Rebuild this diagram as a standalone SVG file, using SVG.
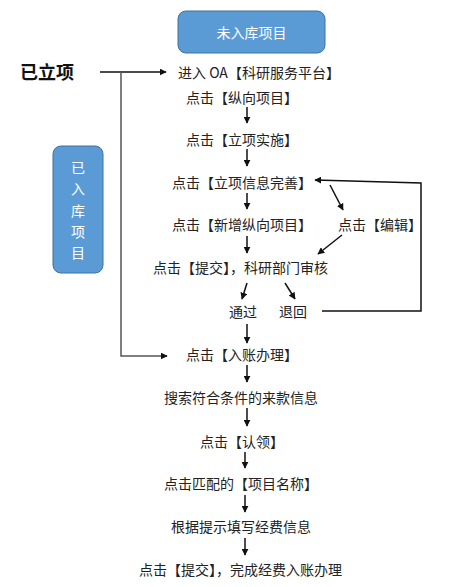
<svg xmlns="http://www.w3.org/2000/svg" width="469" height="587" viewBox="0 0 469 587">
<style>
.t{font-family:"Noto Sans CJK SC","Liberation Sans",sans-serif;font-size:14px;fill:#222;dominant-baseline:central}
.w{font-family:"Noto Sans CJK SC","Liberation Sans",sans-serif;font-size:14px;fill:#fff;dominant-baseline:central;text-anchor:middle}
.box{fill:#5B9BD5;stroke:#41719C;stroke-width:1}
.ln{stroke:#111;stroke-width:1.5;fill:none}
.gl{stroke:#555;stroke-width:1.5;fill:none}
</style>
<defs>
<marker id="a" viewBox="0 0 10 10" refX="9" refY="5" markerWidth="7" markerHeight="7" orient="auto" markerUnits="userSpaceOnUse">
<path d="M0,0 L10,5 L0,10 z" fill="#111"/>
</marker>
</defs>
<rect width="469" height="587" fill="#fff"/>
<g id="node-weiruku"><rect class="box" x="178" y="11" width="147" height="42" rx="8"/><text class="w" x="251.5" y="32">未入库项目</text></g>
<g id="node-yiruku"><rect class="box" x="53" y="146" width="50" height="127" rx="8"/>
<text class="w" x="78" y="167">已</text><text class="w" x="78" y="188">入</text><text class="w" x="78" y="210">库</text><text class="w" x="78" y="231">项</text><text class="w" x="78" y="252">目</text></g>
<g id="node-yilixiang"><text x="20" y="71" style="font-family:'Noto Sans CJK SC',sans-serif;font-size:18px;font-weight:bold;fill:#111;dominant-baseline:central">已立项</text></g>
<g id="node-oa"><text class="t" x="178" y="72">进入 OA【科研服务平台】</text></g>
<g id="node-zongxiang"><text class="t" x="186" y="97">点击【纵向项目】</text></g>
<g id="node-lixiang"><text class="t" x="186" y="139">点击【立项实施】</text></g>
<g id="node-wanshan"><text class="t" x="172" y="182">点击【立项信息完善】</text></g>
<g id="node-xinzeng"><text class="t" x="172" y="224">点击【新增纵向项目】</text></g>
<g id="node-bianji"><text class="t" x="338" y="224">点击【编辑】</text></g>
<g id="node-tijiao"><text class="t" x="153" y="267">点击【提交】，科研部门审核</text></g>
<g id="node-tongguo"><text class="t" x="229" y="311">通过</text></g>
<g id="node-tuihui"><text class="t" x="279" y="311">退回</text></g>
<g id="node-ruzhang"><text class="t" x="186" y="354">点击【入账办理】</text></g>
<g id="node-sousuo"><text class="t" x="164" y="397">搜索符合条件的来款信息</text></g>
<g id="node-renling"><text class="t" x="200" y="441">点击【认领】</text></g>
<g id="node-pipei"><text class="t" x="164" y="483">点击匹配的【项目名称】</text></g>
<g id="node-tianxie"><text class="t" x="171" y="526">根据提示填写经费信息</text></g>
<g id="node-wancheng"><text class="t" x="139" y="569">点击【提交】，完成经费入账办理</text></g>
<g id="connectors">
<path class="ln" d="M100,72 H166" marker-end="url(#a)"/>
<path class="gl" d="M121,72 V356 H166"/>
<path class="ln" d="M166,356 H167" marker-end="url(#a)"/>
<path class="ln" d="M247,107 V123" marker-end="url(#a)"/>
<path class="ln" d="M247,149 V166" marker-end="url(#a)"/>
<path class="ln" d="M247,193 V209" marker-end="url(#a)"/>
<path class="ln" d="M330,185 L343,210" marker-end="url(#a)"/>
<path class="ln" d="M247,236 V253" marker-end="url(#a)"/>
<path class="ln" d="M342,235 L318,254" marker-end="url(#a)"/>
<path class="ln" d="M247,283 L242,299" marker-end="url(#a)"/>
<path class="ln" d="M285,283 L295,299" marker-end="url(#a)"/>
<path class="ln" d="M322,311 H421 V183 L315,180" marker-end="url(#a)"/>
<path class="ln" d="M247,324 V343" marker-end="url(#a)"/>
<path class="ln" d="M247,365 V382" marker-end="url(#a)"/>
<path class="ln" d="M247,408 V426" marker-end="url(#a)"/>
<path class="ln" d="M245,452 V468" marker-end="url(#a)"/>
<path class="ln" d="M245,495 V512" marker-end="url(#a)"/>
<path class="ln" d="M245,538 V555" marker-end="url(#a)"/>
</g>
</svg>
